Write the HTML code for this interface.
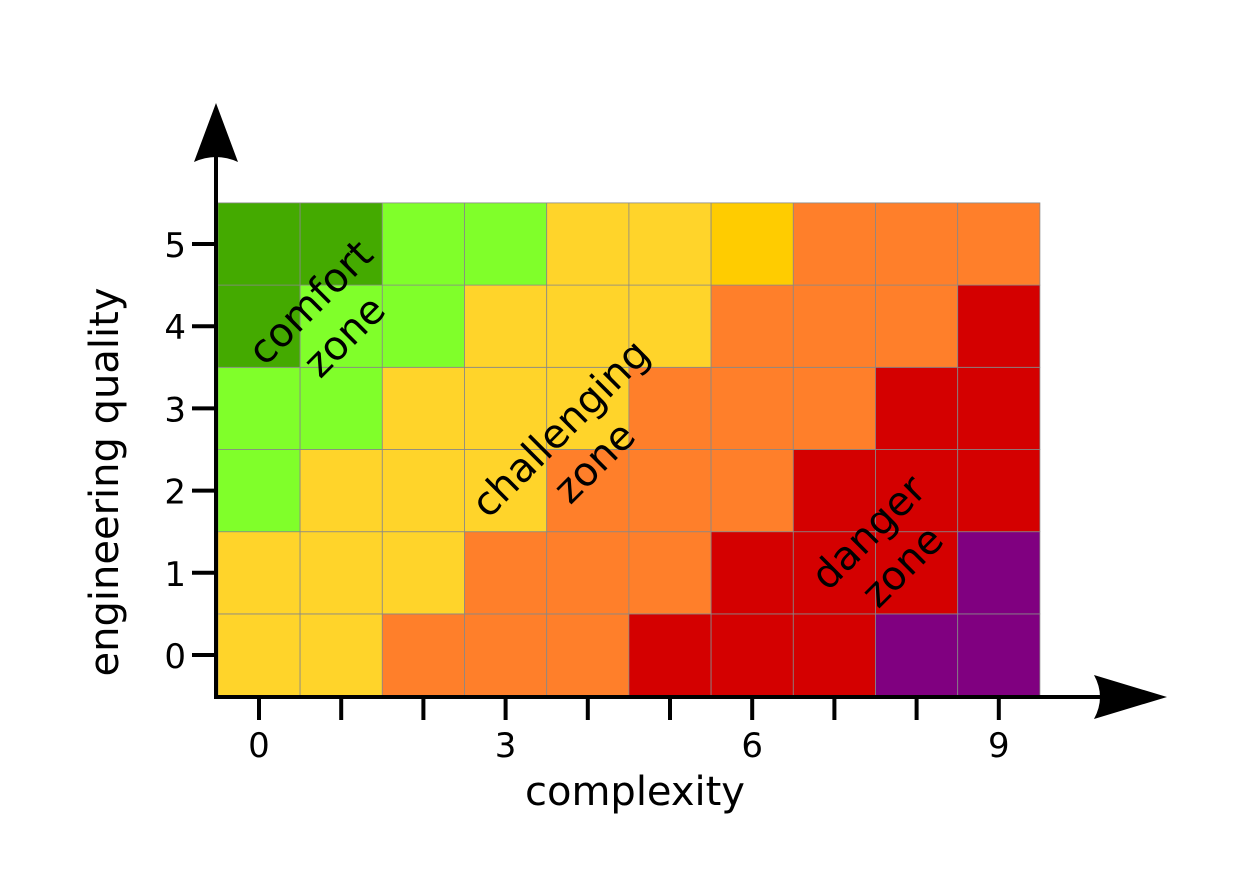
<!DOCTYPE html>
<html><head><meta charset="utf-8"><style>
body{margin:0;background:#fff}
svg{display:block;font-family:"DejaVu Sans","Liberation Sans",sans-serif}
</style></head><body>
<svg id="c" width="1233" height="883" viewBox="0 0 1233 883">
<g id="cells"></g>
<g id="axes">
<line x1="216" y1="697" x2="216" y2="150" stroke="#000" stroke-width="4"/>
<path d="M216,103 L238,162 Q216,152 194,162 Z" fill="#000"/>
<line x1="214" y1="697" x2="1110" y2="697" stroke="#000" stroke-width="4"/>
<path d="M1167,697 L1094,675 Q1106,697 1094,719 Z" fill="#000"/>
</g>
<g id="ticks"></g>
<text x="635" y="805" font-size="40" text-anchor="middle">complexity</text>
<text transform="translate(118,482) rotate(-90)" font-size="40" text-anchor="middle">engineering quality</text>
<g font-size="40" text-anchor="middle">
<text transform="translate(320,312) rotate(-45)"><tspan x="0" dy="0">comfort</tspan><tspan x="0" dy="48">zone</tspan></text>
<text transform="translate(570,438) rotate(-45)"><tspan x="0" dy="0">challenging</tspan><tspan x="0" dy="48">zone</tspan></text>
<text transform="translate(878,542) rotate(-45)"><tspan x="0" dy="0">danger</tspan><tspan x="0" dy="48">zone</tspan></text>
</g>
</svg>
<script>
const xCategories=[0,1,2,3,4,5,6,7,8,9];
const yCategories=[0,1,2,3,4,5];
const palette=["#44aa00","#80ff2a","#ffd42a","#ffcc00","#ff7f2a","#d40000","#800080"];
const levelsY5=[0,0,1,1,2,2,3,4,4,4];
const levelsY4=[0,1,1,2,2,2,4,4,4,5];
const levelsY3=[1,1,2,2,2,4,4,4,5,5];
const levelsY2=[1,2,2,2,4,4,4,5,5,5];
const levelsY1=[2,2,2,4,4,4,5,5,5,6];
const levelsY0=[2,2,4,4,4,5,5,5,6,6];
const rows=[levelsY0,levelsY1,levelsY2,levelsY3,levelsY4,levelsY5];
const xTicks=[0,1,2,3,4,5,6,7,8,9];
const xTickLabels=["0","","","3","","","6","","","9"];
const yTicks=[0,1,2,3,4,5];
const yTickLabels=["0","1","2","3","4","5"];
const NS="http://www.w3.org/2000/svg";
const sx=v=>259+(v)*82.2;
const sy=v=>655-(v)*82.2;
const cells=document.getElementById('cells');
yCategories.forEach((yv,ri)=>{xCategories.forEach((xv,ci)=>{
 const r=document.createElementNS(NS,'rect');
 r.setAttribute('x',sx(xv-0.5));r.setAttribute('y',sy(yv+0.5));
 r.setAttribute('width',82.2);r.setAttribute('height',82.2);
 r.setAttribute('fill',palette[rows[ri][ci]]);
 r.setAttribute('stroke','#888');r.setAttribute('stroke-width','0.8');
 
 
 cells.appendChild(r);});});
const t=document.getElementById('ticks');
xTicks.forEach((v,i)=>{
 const l=document.createElementNS(NS,'line');
 l.setAttribute('x1',sx(v));l.setAttribute('x2',sx(v));l.setAttribute('y1',697);l.setAttribute('y2',720);
 l.setAttribute('stroke','#000');l.setAttribute('stroke-width','4');
 
 
 t.appendChild(l);
 if(xTickLabels[i]){const tx=document.createElementNS(NS,'text');
 tx.setAttribute('x',sx(v));tx.setAttribute('y',757);tx.setAttribute('font-size','34');tx.setAttribute('text-anchor','middle');
 tx.textContent=xTickLabels[i];
 
 
 t.appendChild(tx);}
});
yTicks.forEach((v,i)=>{
 const l=document.createElementNS(NS,'line');
 l.setAttribute('x1',192);l.setAttribute('x2',216);l.setAttribute('y1',sy(v));l.setAttribute('y2',sy(v));
 l.setAttribute('stroke','#000');l.setAttribute('stroke-width','4');
 
 
 t.appendChild(l);
 const tx=document.createElementNS(NS,'text');
 tx.setAttribute('x',186);tx.setAttribute('y',sy(v)+13);tx.setAttribute('font-size','34');tx.setAttribute('text-anchor','end');
 tx.textContent=yTickLabels[i];
 
 
 t.appendChild(tx);
});
</script>
</body></html>
